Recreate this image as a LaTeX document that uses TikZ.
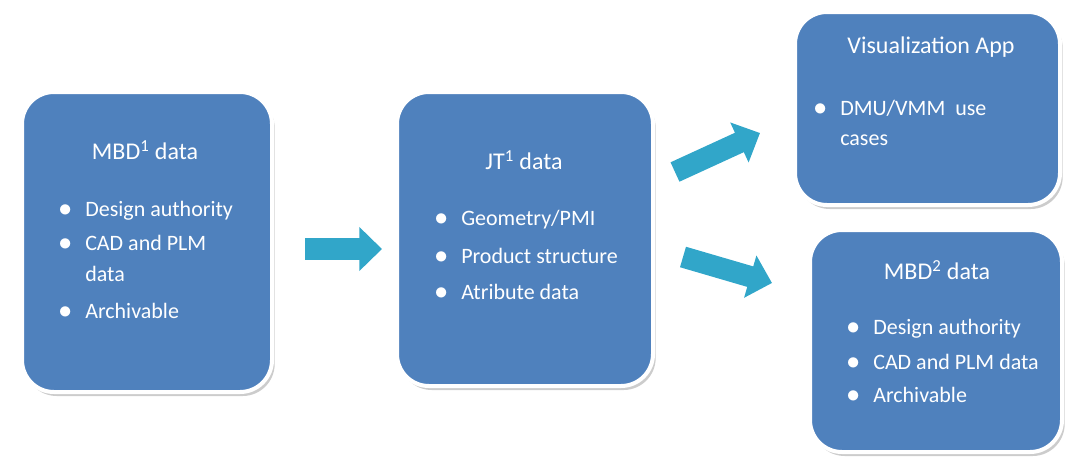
\documentclass[tikz,border=0pt]{standalone}
\usepackage{fontspec}
\setmainfont{Carlito}
\usepackage{tikz}
\usetikzlibrary{shapes,arrows.meta,positioning,shadows}
\usepackage{xcolor}
\definecolor{boxblue}{HTML}{4F81BD}
\definecolor{arrowteal}{HTML}{31A6C9}
\newcommand{\bul}{\makebox[0pt][r]{\scalebox{1.15}{$\bullet$}\hspace{10pt}}}

\begin{document}
\begin{tikzpicture}[
        x=0.75pt, y=-0.75pt,
        every node/.style={font=\fontsize{16.5}{19}\selectfont, text=white},
        databox/.style={rectangle, rounded corners=24pt, fill=boxblue, draw=white,
            line width=3pt, drop shadow={opacity=0.4, shadow xshift=2pt, shadow yshift=-3pt}},
        heading/.style={font=\fontsize{18}{21}\selectfont},
        item/.style={anchor=west, inner sep=0pt},
        blockarrow/.style={draw=arrowteal, line width=16pt,
            -{Triangle[length=17pt, width=32pt]}}
    ]
        \useasboundingbox (0,0) rectangle (1067,457);

        % MBD1 data - left box
        \node[databox, minimum width=187.5pt, minimum height=225pt] (mbdone) at (147,242) {};
        \node[heading] (mbdonehead) at (145,150) {MBD\textsuperscript{1} data};
        \node[item] (mbdonea) at (85,211) {\bul Design authority};
        \node[item] (mbdoneb) at (85,243) {\bul CAD and PLM};
        \node[item] (mbdonec) at (85,274) {data};
        \node[item] (mbdoned) at (85,311) {\bul Archivable};

        % JT1 data - middle box
        \node[databox, minimum width=192pt, minimum height=220.5pt] (jt) at (525,239) {};
        \node[heading] (jthead) at (524,160) {JT\textsuperscript{1} data};
        \node[item] (jta) at (461,220) {\bul Geometry/PMI};
        \node[item] (jtb) at (461,256) {\bul Product structure};
        \node[item] (jtc) at (461,292) {\bul Atribute data};

        % Visualization App - top right
        \node[databox, minimum width=198.75pt, minimum height=144.75pt] (vis) at (927.5,108.5) {};
        \node[heading] (vishead) at (931,47) {Visualization App};
        \node[item] (visa) at (840,108) {\bul DMU/VMM\ \ use};
        \node[item] (visb) at (840,140) {cases};

        % MBD2 data - bottom right
        \node[databox, minimum width=189pt, minimum height=166.5pt] (mbdtwo) at (936,341) {};
        \node[heading] (mbdtwohead) at (937,270) {MBD\textsuperscript{2} data};
        \node[item] (mbdtwoa) at (873,329) {\bul Design authority};
        \node[item] (mbdtwob) at (873,362) {\bul CAD and PLM data};
        \node[item] (mbdtwoc) at (873,395) {\bul Archivable};

        % block arrows
        \coordinate (arrowonefrom) at (305,249);
        \coordinate (arrowoneto) at (382,249);
        \coordinate (arrowtwofrom) at (675,172);
        \coordinate (arrowtwoto) at (760,133);
        \coordinate (arrowthreefrom) at (683,257);
        \coordinate (arrowthreeto) at (772,283);
        \draw[blockarrow] (arrowonefrom) -- (arrowoneto);
        \draw[blockarrow] (arrowtwofrom) -- (arrowtwoto);
        \draw[blockarrow] (arrowthreefrom) -- (arrowthreeto);

    \end{tikzpicture}
\end{document}
